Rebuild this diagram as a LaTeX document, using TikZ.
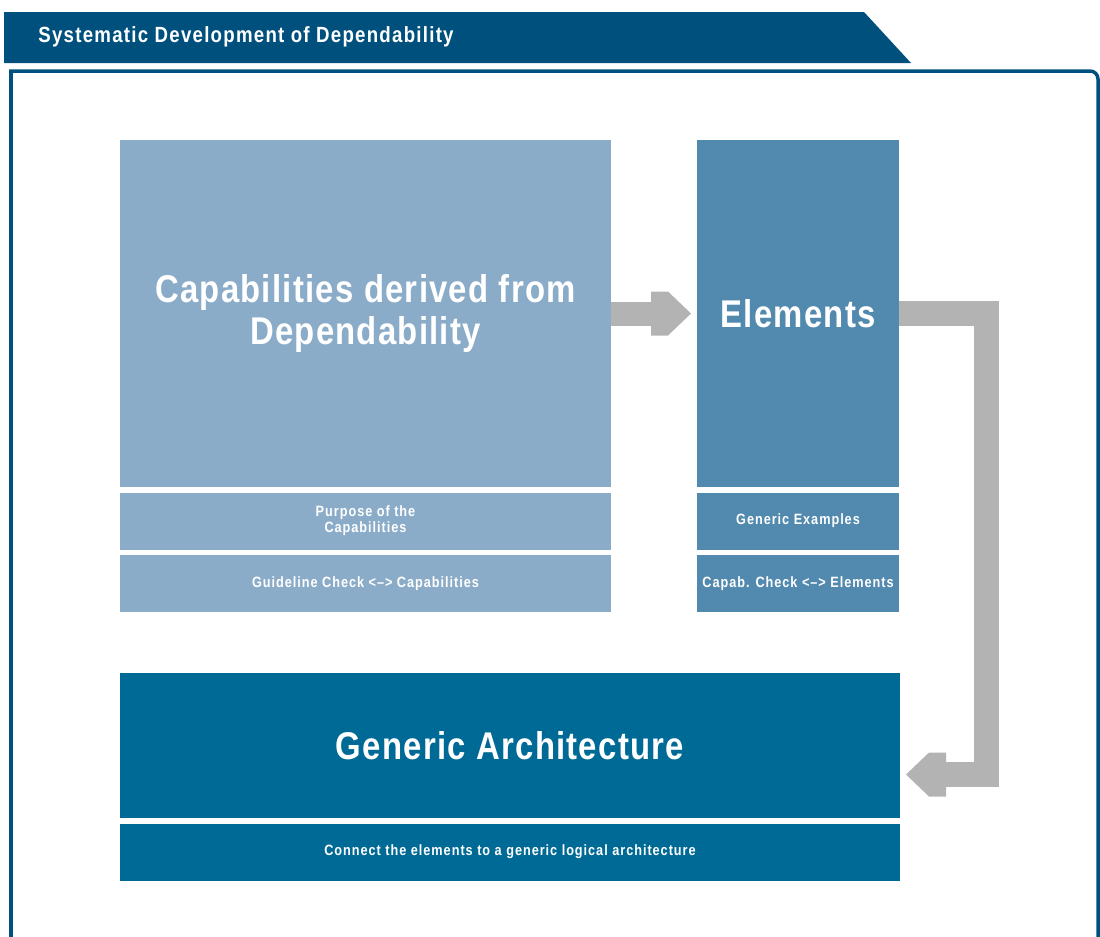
\documentclass[tikz,border=0pt]{standalone}
\usepackage{fontspec}
\setmainfont[FakeStretch=0.85]{Liberation Sans}
\newfontfamily\bigfont[FakeStretch=0.85, LetterSpace=3.3, Ligatures=TeX]{Liberation Sans}
\newfontfamily\smallfont[FakeStretch=0.85, LetterSpace=6.5, Ligatures=TeX]{Liberation Sans}
\newfontfamily\headfont[FakeStretch=0.85, LetterSpace=5.7, Ligatures=TeX]{Liberation Sans}
\usepackage{xcolor}
\usetikzlibrary{positioning,calc}

\definecolor{headblue}{HTML}{00507D}
\definecolor{capblue}{HTML}{8BACC8}
\definecolor{elemblue}{HTML}{5289AE}
\definecolor{archblue}{HTML}{006A96}
\definecolor{arrowgray}{HTML}{B3B3B3}

\begin{document}
\begin{tikzpicture}[node distance=0.11cm,
    box/.style={rectangle, inner sep=0pt, outer sep=0pt, text=white, align=center},
    bigtext/.style={font=\bigfont\fontsize{22}{24}\selectfont\bfseries},
    smalltext/.style={font=\smallfont\fontsize{8.5}{9}\selectfont\bfseries},
    subbox/.style={box, smalltext, minimum height=1.14cm},
    flow/.style={draw=arrowgray, line width=0.5cm, line join=miter}]
    \useasboundingbox (0,0) rectangle (22,-18.72);

    % header tab and frame
    \fill[headblue] (0.08,-0.24) -- (17.28,-0.24) -- (18.22,-1.26) -- (0.08,-1.26) -- cycle;
    \node (title) [anchor=west, inner sep=0pt, text=white, font=\headfont\fontsize{12.5}{14}\selectfont\bfseries] at (0.76,-0.74) {Systematic Development of Dependability};
    \draw[headblue, line width=0.07cm] (0.22,-18.8) -- (0.22,-1.42) -- (21.8,-1.42) arc (90:0:0.16) -- (21.96,-18.8);

    % capabilities column
    \node (cap) [box, bigtext, fill=capblue, anchor=north west, minimum width=9.82cm, minimum height=6.94cm] at (2.4,-2.8) {Capabilities derived from\\Dependability};
    \node (purp) [subbox, fill=capblue, below=of cap, minimum width=9.82cm] {Purpose of the\\Capabilities};
    \node (guide) [subbox, fill=capblue, below=of purp, minimum width=9.82cm] {Guideline Check <--> Capabilities};

    % elements column
    \node (elem) [box, bigtext, fill=elemblue, anchor=north west, minimum width=4.04cm, minimum height=6.94cm] at (13.94,-2.8) {Elements};
    \node (examp) [subbox, fill=elemblue, below=of elem, minimum width=4.04cm] {Generic Examples};
    \node (chk) [subbox, fill=elemblue, below=of examp, minimum width=4.04cm] {Capab. Check <--> Elements};

    % architecture
    \node (arch) [box, bigtext, fill=archblue, anchor=north west, minimum width=15.6cm, minimum height=2.9cm] at (2.4,-13.46) {Generic Architecture};
    \node (conn) [subbox, fill=archblue, below=of arch, minimum width=15.6cm] {Connect the elements to a generic logical architecture};

    % arrows
    \coordinate (tip1) at ($(cap.east -| elem.west)+(-0.12,0)$);
    \draw[flow, line width=0.48cm] (cap.east) -- ($(tip1)+(-0.8,0)$);
    \fill[arrowgray] ($(tip1)+(-0.8,0.44)$) -- ($(tip1)+(-0.46,0.44)$) -- (tip1) -- ($(tip1)+(-0.46,-0.44)$) -- ($(tip1)+(-0.8,-0.44)$) -- cycle;

    \coordinate (tip2) at ($(arch.east)+(0.12,-0.58)$);
    \coordinate (turn1) at ($(elem.east)+(1.74,0)$);
    \coordinate (turn2) at (turn1 |- tip2);
    \draw[flow] (elem.east) -- (turn1) -- (turn2) -- ($(tip2)+(0.8,0)$);
    \fill[arrowgray] ($(tip2)+(0.8,0.44)$) -- ($(tip2)+(0.46,0.44)$) -- (tip2) -- ($(tip2)+(0.46,-0.44)$) -- ($(tip2)+(0.8,-0.44)$) -- cycle;
\end{tikzpicture}
\end{document}
